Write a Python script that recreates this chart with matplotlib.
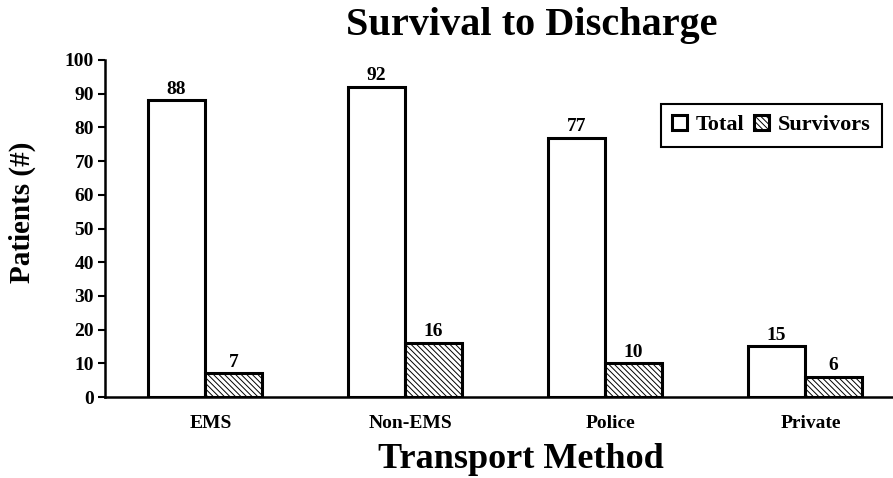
import numpy as np
import matplotlib.pyplot as plt

# patients per transport method
methods = ['EMS', 'Non-EMS', 'Police', 'Private']
total = [88, 92, 77, 15]
survivors = [7, 16, 10, 6]

plt.rcParams['font.family'] = 'Liberation Serif'
plt.rcParams['font.weight'] = 'bold'
plt.rcParams['hatch.linewidth'] = 0.7

fig = plt.figure(figsize=(8.93, 4.78), dpi=100)
ax = fig.add_axes([105 / 893, 1 - 397 / 478, 1 - 105 / 893, (397 - 60) / 478])

x = np.arange(len(methods))
w = 0.285
b1 = ax.bar(x - w / 2, total, w, color='white', edgecolor='black', linewidth=2.2, label='Total')
b2 = ax.bar(x + w / 2, survivors, w, color='white', edgecolor='black', linewidth=2.2,
            hatch='\\\\\\\\\\\\', label='Survivors')

for bars in (b1, b2):
    for r in bars:
        ax.annotate(f'{int(r.get_height())}', (r.get_x() + r.get_width() / 2, r.get_height()),
                    xytext=(0, 2), textcoords='offset points', ha='center', va='bottom',
                    fontsize=14, fontweight='bold')

ax.set_xlim(-0.5, (893 - 205) / 200)
ax.set_ylim(0, 100)
ax.set_yticks(range(0, 101, 10))
ax.set_xticks(x + 0.03)
ax.set_xticklabels(methods, fontsize=14, fontweight='bold')
ax.tick_params(axis='x', length=0, pad=13)
ax.tick_params(axis='y', length=5, width=1.5, labelsize=14, pad=3)
for lab in ax.get_yticklabels():
    lab.set_fontweight('bold')
ax.spines['top'].set_visible(False)
ax.spines['right'].set_visible(False)
ax.spines['left'].set_linewidth(1.8)
ax.spines['bottom'].set_linewidth(1.8)

leg = ax.legend(loc='upper right', bbox_to_anchor=(0.986, 0.87), borderaxespad=0, ncol=2,
                fancybox=False, edgecolor='black', framealpha=1, handlelength=0.7,
                handleheight=0.7, handletextpad=0.4, columnspacing=0.4, borderpad=0.5,
                prop={'family': 'Liberation Serif', 'weight': 'bold', 'size': 16})
leg.get_frame().set_linewidth(1.5)

fig.text(532 / 893, 1 - 35 / 478, 'Survival to Discharge', ha='center', va='baseline',
         fontsize=29, fontweight='bold')
fig.text(521 / 893, 1 - 468 / 478, 'Transport Method', ha='center', va='baseline',
         fontsize=26, fontweight='bold')
fig.text(22 / 893, 1 - 212 / 478, 'Patients (#)', ha='center', va='center', rotation=90,
         fontsize=21, fontweight='bold')

fig.savefig('out.png', dpi=100)
